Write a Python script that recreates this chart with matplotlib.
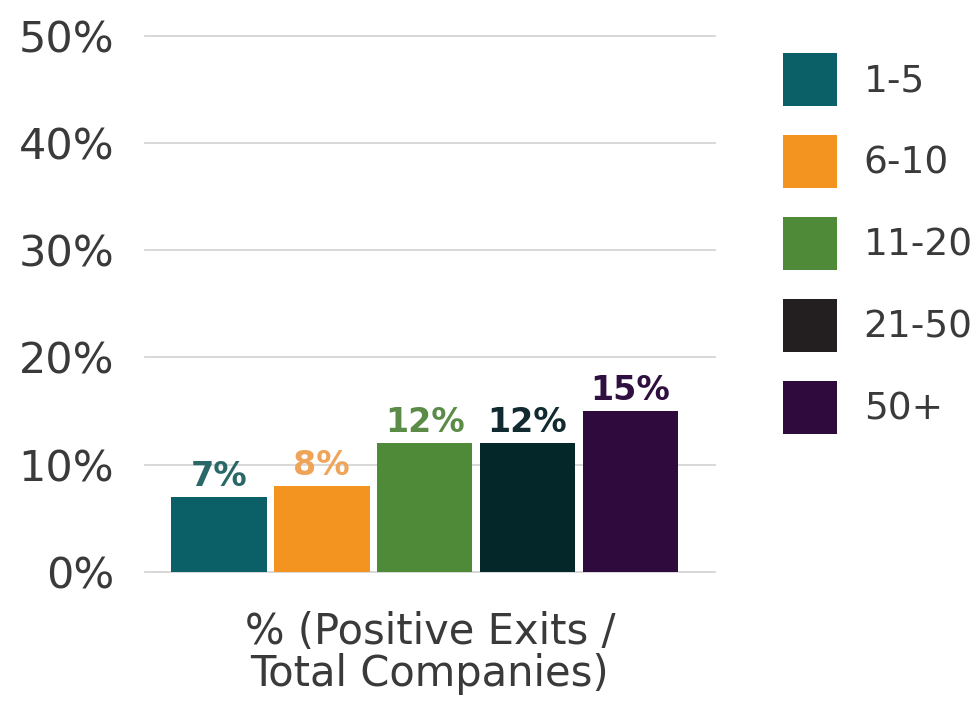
import matplotlib.pyplot as plt
from matplotlib.patches import Patch

groups = ["1-5", "6-10", "11-20", "21-50", "50+"]
values = [7, 8, 12, 12, 15]
bar_colors = ["#0b5f66", "#f49420", "#4e8a38", "#04272a", "#2f0a3c"]
legend_colors = ["#0b5f66", "#f49420", "#4e8a38", "#231f20", "#2f0a3c"]
label_colors = ["#2a6868", "#f0a458", "#5b8c47", "#102a30", "#2f1040"]
yticks = [0, 10, 20, 30, 40, 50]
xlabel = "% (Positive Exits /\nTotal Companies)"

plt.rcParams['font.family'] = ['DejaVu Sans']
text_color = "#3a3a3a"

fig = plt.figure(figsize=(9.79, 7.14), dpi=100)
ax = fig.add_axes([0.148, 0.199, 0.582, 0.751])

x = list(range(len(groups)))
ax.bar(x, values, width=0.93, color=bar_colors, zorder=2)

# value labels sit just above each bar, coloured like the bar
for xi, v, c in zip(x, values, label_colors):
    ax.text(xi, v + 1.0, f"{v}%", ha="center", va="baseline",
            fontsize=24, fontweight="bold", color=c, zorder=3)

ax.set_xlim(-0.72, 4.82)
ax.set_ylim(0, 50)
ax.set_yticks(yticks)
ax.set_yticklabels([f"{t}%" for t in yticks], fontsize=31, color=text_color)
ax.yaxis.grid(True, color="#d2d2d2", linewidth=1.2, zorder=0)
for gl in ax.get_ygridlines():
    gl.set_clip_on(False)
ax.set_xticks([])
ax.tick_params(axis="y", length=0, pad=22)
for s in ax.spines.values():
    s.set_visible(False)

ax.set_xlabel(xlabel, fontsize=30, color=text_color, labelpad=28, linespacing=1.0)

handles = [Patch(facecolor=c, edgecolor="none") for c in legend_colors]
fig.legend(handles, groups, loc="upper left", bbox_to_anchor=(0.7998, 0.926),
           frameon=False, fontsize=27, handlelength=1.45, handleheight=1.8,
           labelspacing=0.77, handletextpad=0.7, borderpad=0, borderaxespad=0,
           labelcolor=text_color)

fig.savefig("out.png", dpi=100)
